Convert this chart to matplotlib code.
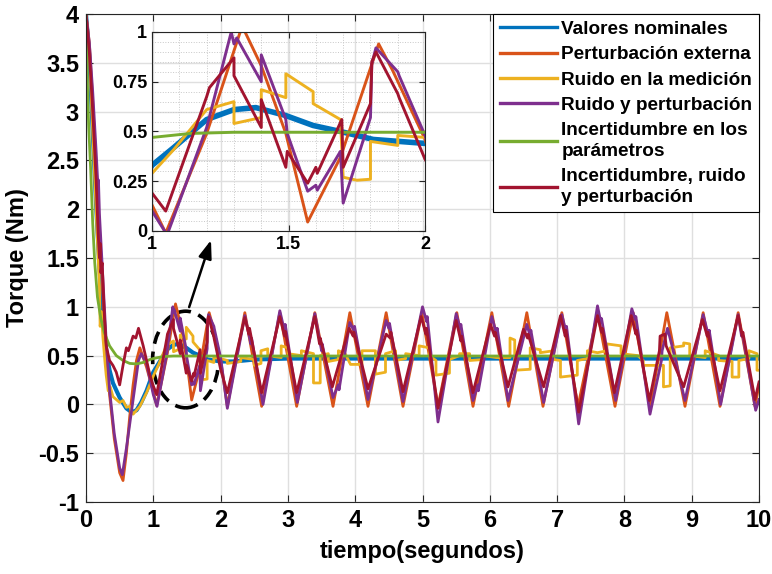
import matplotlib
matplotlib.use('Agg')
import matplotlib.pyplot as plt
from matplotlib.patches import Ellipse
from matplotlib.ticker import MultipleLocator, FuncFormatter

plt.rcParams['font.family'] = ['Liberation Sans', 'DejaVu Sans']
plt.rcParams['font.weight'] = 'bold'

# (tiempo, torque) vertices
nominal = [(0, 4.0), (0.05, 3.55), (0.1, 2.8), (0.15, 2.05), (0.2, 1.4), (0.25, 0.9),
           (0.3, 0.55), (0.35, 0.35), (0.4, 0.22), (0.5, 0.07), (0.6, -0.04), (0.68, -0.08),
           (0.75, -0.06), (0.82, 0.02), (0.9, 0.14), (1.0, 0.33), (1.08, 0.42), (1.2, 0.56),
           (1.3, 0.61), (1.38, 0.62), (1.49, 0.58), (1.59, 0.53), (1.69, 0.50), (1.81, 0.46),
           (2.0, 0.44), (2.2, 0.44), (2.5, 0.46), (3.0, 0.47), (10.0, 0.47)]

perturbacion = [(0, 4.0), (0.05, 3.7), (0.1, 3.1), (0.15, 2.45), (0.2, 1.8), (0.25, 1.15),
                (0.3, 0.55), (0.35, 0.1), (0.42, -0.35), (0.5, -0.7), (0.55, -0.78), (0.6, -0.5),
                (0.65, -0.12), (0.7, 0.2), (0.75, 0.45), (0.8, 0.58), (0.9, 0.38), (1.0, 0.13),
                (1.05, -0.01), (1.2, 0.49), (1.33, 1.03), (1.40, 0.83), (1.49, 0.49), (1.57, 0.045),
                (1.69, 0.37), (1.83, 0.94), (1.88, 0.81), (2.0, 0.46), (2.10, -0.02), (2.36, 0.94),
                (2.61, -0.02), (2.88, 0.94), (3.13, -0.02), (3.40, 0.94), (3.67, -0.02), (3.92, 0.94),
                (4.19, -0.02), (4.46, 0.94), (4.71, -0.02), (4.99, 0.94), (5.23, -0.02), (5.51, 0.94),
                (5.75, -0.02), (6.03, 0.94), (6.28, -0.02), (6.55, 0.94), (6.79, -0.02), (7.07, 0.94),
                (7.31, -0.02), (7.60, 0.94), (7.86, -0.02), (8.13, 0.94), (8.38, -0.02), (8.63, 0.94),
                (8.90, -0.02), (9.17, 0.94), (9.42, -0.02), (9.69, 0.94), (9.94, -0.02), (10.0, 0.2)]

ruido = [(0, 4.0), (0.05, 3.6), (0.1, 2.8), (0.15, 2.0), (0.2, 1.2), (0.21, 0.8), (0.23, 0.95),
         (0.25, 0.7), (0.28, 0.45), (0.3, 0.3), (0.33, 0.14), (0.36, 0.18), (0.4, 0.08),
         (0.45, 0.05), (0.5, 0.02), (0.55, 0.04), (0.6, -0.03), (0.65, -0.02), (0.7, -0.1),
         (0.75, -0.06), (0.8, -0.02), (0.9, 0.12), (1.0, 0.29), (1.08, 0.41), (1.2, 0.61),
         (1.25, 0.63), (1.30, 0.65), (1.30, 0.54), (1.40, 0.57), (1.40, 0.71), (1.49, 0.67),
         (1.49, 0.79), (1.59, 0.70), (1.59, 0.64), (1.69, 0.56), (1.70, 0.27), (1.75, 0.255),
         (1.80, 0.26), (1.80, 0.45), (1.90, 0.43), (1.90, 0.48), (2.0, 0.47), (2.1, 0.45),
         (2.1, 0.42), (2.3, 0.44), (2.3, 0.48), (2.5, 0.46), (2.5, 0.40), (2.6, 0.42), (2.6, 0.55),
         (2.7, 0.57), (2.7, 0.50), (2.9, 0.48), (2.9, 0.60), (3.0, 0.58), (3.0, 0.52), (3.2, 0.50),
         (3.2, 0.55), (3.38, 0.52), (3.38, 0.22), (3.48, 0.22), (3.48, 0.50), (3.6, 0.52),
         (3.6, 0.44), (3.75, 0.46), (3.75, 0.55), (3.85, 0.52), (3.93, 0.41), (4.1, 0.41),
         (4.1, 0.55), (4.3, 0.55), (4.3, 0.31), (4.45, 0.33), (4.45, 0.52), (4.6, 0.55),
         (4.6, 0.45), (4.75, 0.47), (4.75, 0.52), (4.95, 0.50), (4.95, 0.60), (5.1, 0.58),
         (5.1, 0.50), (5.2, 0.45), (5.2, 0.30), (5.4, 0.32), (5.4, 0.46), (5.55, 0.50),
         (5.55, 0.52), (5.7, 0.52), (5.7, 0.45), (5.9, 0.46), (5.9, 0.50), (6.1, 0.48),
         (6.3, 0.48), (6.3, 0.68), (6.37, 0.66), (6.37, 0.35), (6.6, 0.36), (6.6, 0.58),
         (6.75, 0.56), (6.75, 0.53), (6.95, 0.55), (6.95, 0.46), (7.05, 0.45), (7.05, 0.28),
         (7.3, 0.30), (7.3, 0.45), (7.45, 0.47), (7.45, 0.55), (7.6, 0.53), (7.74, 0.55),
         (7.74, 0.62), (7.95, 0.60), (7.95, 0.52), (8.2, 0.50), (8.28, 0.45), (8.28, 0.40),
         (8.58, 0.40), (8.58, 0.18), (8.68, 0.19), (8.68, 0.58), (8.88, 0.60), (8.88, 0.63),
         (8.97, 0.62), (8.97, 0.50), (9.2, 0.48), (9.2, 0.55), (9.4, 0.50), (9.4, 0.45),
         (9.6, 0.44), (9.6, 0.28), (9.7, 0.28), (9.7, 0.45), (9.85, 0.47), (9.85, 0.55),
         (9.97, 0.52), (9.97, 0.35), (10.0, 0.35)]

ruido_pert = [(0, 4.0), (0.05, 3.7), (0.1, 3.2), (0.15, 2.6), (0.18, 2.2), (0.185, 2.3), (0.2, 1.95),
              (0.25, 1.3), (0.3, 0.65), (0.35, 0.15), (0.42, -0.3), (0.5, -0.65), (0.54, -0.72),
              (0.6, -0.45), (0.67, -0.1), (0.72, 0.15), (0.78, 0.45), (0.82, 0.52), (0.9, 0.42),
              (1.0, 0.10), (1.055, -0.02), (1.2, 0.52), (1.29, 1.0), (1.30, 0.94), (1.31, 0.97),
              (1.40, 0.75), (1.40, 0.885), (1.49, 0.56), (1.495, 0.49), (1.57, 0.20), (1.60, 0.23),
              (1.605, 0.205), (1.69, 0.40), (1.70, 0.14), (1.80, 0.57), (1.805, 0.84), (1.82, 0.92),
              (1.90, 0.80), (1.905, 0.78), (2.0, 0.48), (2.1, -0.04), (2.36, 0.91), (2.45, 0.62),
              (2.46, 0.68), (2.63, 0.0), (2.88, 0.96), (2.95, 0.75), (2.96, 0.82), (3.14, 0.02),
              (3.4, 0.93), (3.5, 0.55), (3.51, 0.62), (3.67, 0.07), (3.75, 0.2), (3.76, 0.15),
              (3.92, 0.84), (3.98, 0.76), (3.99, 0.80), (4.19, 0.05), (4.46, 0.86), (4.5, 0.78),
              (4.51, 0.83), (4.71, 0.03), (5.0, 1.0), (5.06, 0.85), (5.07, 0.9), (5.23, -0.18),
              (5.5, 0.93), (5.56, 0.78), (5.57, 0.82), (5.75, 0.04), (5.82, 0.2), (5.83, 0.14),
              (6.03, 0.9), (6.1, 0.72), (6.11, 0.78), (6.27, 0.04), (6.55, 0.82), (6.6, 0.7),
              (6.61, 0.76), (6.8, 0.02), (7.07, 0.92), (7.13, 0.75), (7.14, 0.8), (7.32, -0.2),
              (7.6, 1.01), (7.65, 0.84), (7.66, 0.88), (7.87, 0.04), (8.11, 0.98), (8.16, 0.87),
              (8.17, 0.9), (8.38, -0.1), (8.55, 0.45), (8.56, 0.55), (8.64, 0.78), (8.7, 0.62),
              (8.9, 0.04), (9.17, 0.92), (9.25, 0.7), (9.26, 0.76), (9.43, 0.0), (9.69, 0.92),
              (9.74, 0.7), (9.75, 0.74), (9.95, -0.06), (10.0, 0.05)]

incertidumbre = [(0, 4.0), (0.02, 3.3), (0.04, 2.85), (0.07, 2.4), (0.1, 1.85), (0.13, 1.45),
                 (0.17, 1.1), (0.22, 0.88), (0.27, 0.74), (0.35, 0.6), (0.45, 0.5), (0.55, 0.45),
                 (0.65, 0.42), (0.75, 0.415), (0.85, 0.43), (0.95, 0.46), (1.0, 0.47), (1.14, 0.49),
                 (1.3, 0.496), (10.0, 0.496)]

todo = [(0, 4.0), (0.05, 3.6), (0.1, 3.0), (0.15, 2.3), (0.18, 1.75), (0.2, 1.5), (0.21, 1.65),
        (0.22, 1.35), (0.24, 1.45), (0.27, 0.95), (0.3, 0.6), (0.35, 0.45), (0.4, 0.4), (0.45, 0.33),
        (0.5, 0.2), (0.55, 0.4), (0.6, 0.58), (0.63, 0.55), (0.7, 0.7), (0.74, 0.68), (0.78, 0.78),
        (0.85, 0.6), (0.95, 0.3), (1.0, 0.19), (1.05, 0.10), (1.2, 0.675), (1.21, 0.72),
        (1.30, 0.87), (1.30, 0.78), (1.40, 0.52), (1.40, 0.66), (1.49, 0.32), (1.495, 0.40),
        (1.57, 0.24), (1.60, 0.32), (1.605, 0.29), (1.695, 0.56), (1.70, 0.32), (1.80, 0.64),
        (1.805, 0.85), (1.82, 0.9), (1.90, 0.69), (1.905, 0.67), (2.0, 0.36), (2.1, 0.12),
        (2.36, 0.89), (2.42, 0.72), (2.43, 0.78), (2.61, 0.12), (2.88, 0.9), (2.95, 0.7),
        (2.96, 0.75), (3.13, 0.12), (3.4, 0.9), (3.47, 0.62), (3.48, 0.68), (3.66, 0.18),
        (3.91, 0.78), (3.97, 0.7), (3.98, 0.74), (4.19, 0.16), (4.46, 0.72), (4.52, 0.68),
        (4.53, 0.74), (4.71, 0.13), (4.98, 0.9), (5.05, 0.72), (5.06, 0.78), (5.23, -0.04),
        (5.5, 0.86), (5.57, 0.65), (5.58, 0.7), (5.75, 0.12), (6.01, 0.82), (6.07, 0.7),
        (6.08, 0.74), (6.27, 0.18), (6.5, 0.77), (6.56, 0.68), (6.57, 0.72), (6.8, 0.18),
        (7.05, 0.91), (7.12, 0.7), (7.13, 0.76), (7.32, -0.08), (7.6, 0.91), (7.66, 0.74),
        (7.67, 0.78), (7.85, 0.12), (8.1, 0.91), (8.17, 0.72), (8.18, 0.76), (8.37, 0.04),
        (8.52, 0.55), (8.53, 0.7), (8.6, 0.72), (8.62, 0.6), (8.88, 0.18), (9.16, 0.87),
        (9.23, 0.7), (9.24, 0.74), (9.42, 0.14), (9.69, 0.91), (9.75, 0.7), (9.76, 0.74),
        (9.94, 0.05), (10.0, 0.23)]

series = [nominal, perturbacion, ruido, ruido_pert, incertidumbre, todo]
labels = ['Valores nominales', 'Perturbación externa', 'Ruido en la medición',
          'Ruido y perturbación', 'Incertidumbre en los\nparámetros',
          'Incertidumbre, ruido\ny perturbación']
colors = ['#0072BD', '#D95319', '#EDB120', '#7E2F8E', '#77AC30', '#A2142F']
xticks = list(range(0, 11))
yticks = [-1, -0.5, 0, 0.5, 1, 1.5, 2, 2.5, 3, 3.5, 4]

fmt = FuncFormatter(lambda v, p: '%g' % v)
axcol = '#262626'

fig = plt.figure(figsize=(7.72, 5.74), dpi=100)
ax = fig.add_axes([0.1114, 0.1254, 0.8718, 0.8502])

lines = []
for pts, lab, c in zip(series, labels, colors):
    t = [p[0] for p in pts]
    y = [p[1] for p in pts]
    lw = 3.0 if c == '#0072BD' else 2.0
    ln, = ax.plot(t, y, color=c, lw=lw, label=lab)
    lines.append(ln)

ax.set_xlim(0, 10)
ax.set_ylim(-1, 4)
ax.set_xticks(xticks)
ax.set_yticks(yticks)
ax.xaxis.set_major_formatter(fmt)
ax.yaxis.set_major_formatter(fmt)
ax.grid(True, color='#dfdfdf', lw=1.0)
ax.set_axisbelow(True)
ax.tick_params(direction='in', top=True, right=True, length=5, width=0.8,
               labelsize=17, colors=axcol, labelcolor='black', pad=5)
for s in ax.spines.values():
    s.set_color(axcol)
    s.set_linewidth(0.8)
ax.set_xlabel('tiempo(segundos)', fontsize=17, fontweight='bold', labelpad=6)
ax.set_ylabel('Torque (Nm)', fontsize=17, fontweight='bold', labelpad=7)

leg = ax.legend(handles=lines, loc='upper right', borderaxespad=0, fancybox=False,
                edgecolor='black', framealpha=1, fontsize=13.7, handlelength=3.0,
                handletextpad=0.25, borderpad=0.35, labelspacing=0.42)
leg.get_frame().set_linewidth(0.8)
for tx in leg.get_texts():
    tx.set_linespacing(1.3)
for hl in leg.get_lines():
    hl.set_linewidth(2.4)

# dashed ellipse and arrow to the zoom
ax.add_patch(Ellipse((1.48, 0.46), 0.98, 0.99, fill=False, ec='black', lw=2.6,
                     ls=(0, (3.5, 2.2))))
ax.annotate('', xy=(1.87, 1.71), xytext=(1.52, 0.97),
            arrowprops=dict(arrowstyle='-|>,head_length=1.1,head_width=0.4',
                            color='black', lw=1.8))

# inset
axi = fig.add_axes([0.197, 0.5976, 0.3536, 0.3467])
axi.patch.set_alpha(0)
for pts, c in zip(series, colors):
    t = [p[0] for p in pts]
    y = [p[1] for p in pts]
    lw = 4.0 if c == '#0072BD' else 2.1
    axi.plot(t, y, color=c, lw=lw)
axi.set_xlim(1, 2)
axi.set_ylim(0, 1)
axi.set_xticks([1, 1.5, 2])
axi.set_yticks([0, 0.25, 0.5, 0.75, 1])
axi.xaxis.set_minor_locator(MultipleLocator(0.1))
axi.yaxis.set_minor_locator(MultipleLocator(0.05))
axi.xaxis.set_major_formatter(fmt)
axi.yaxis.set_major_formatter(fmt)
axi.grid(True, which='major', color='#dfdfdf', lw=1.0)
axi.grid(True, which='minor', color='#c8c8c8', lw=0.7, ls=':')
axi.set_axisbelow(True)
axi.tick_params(which='both', direction='in', top=True, right=True, colors=axcol,
                labelcolor='black', labelsize=13)
axi.tick_params(which='major', length=4)
axi.tick_params(which='minor', length=0)
for s in axi.spines.values():
    s.set_color(axcol)
    s.set_linewidth(0.8)

fig.savefig('out.png', dpi=100)
